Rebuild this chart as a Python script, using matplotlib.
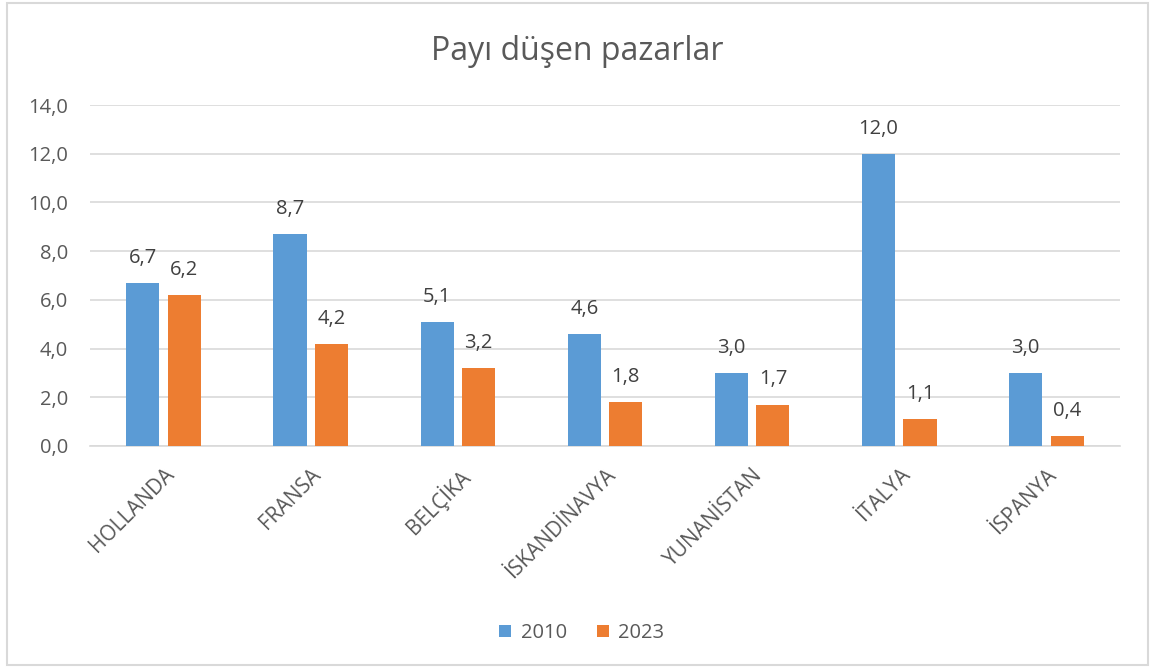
import numpy as np
import matplotlib.pyplot as plt
from matplotlib.patches import Rectangle

plt.rcParams["font.family"] = ["Open Sans", "DejaVu Sans"]

# veriler
ulkeler = ["HOLLANDA", "FRANSA", "BELÇİKA", "İSKANDİNAVYA", "YUNANİSTAN", "İTALYA", "İSPANYA"]
pay_2010 = [6.7, 8.7, 5.1, 4.6, 3.0, 12.0, 3.0]
pay_2023 = [6.2, 4.2, 3.2, 1.8, 1.7, 1.1, 0.4]

blue = "#5b9bd5"
orange = "#ed7d31"
text_color = "#595959"
grid_color = "#d9d9d9"
fs = 14.5

fig = plt.figure(figsize=(11.52, 6.68), dpi=100)
ax = fig.add_axes([90/1152, 1-446/668, 1030/1152, 341/668])

x = np.arange(len(ulkeler))
w = 0.225
off = 0.141

b1 = ax.bar(x-off, pay_2010, w, color=blue, label="2010", zorder=3)
b2 = ax.bar(x+off, pay_2023, w, color=orange, label="2023", zorder=3)

for bars in (b1, b2):
    for b in bars:
        v = b.get_height()
        ax.text(b.get_x()+b.get_width()/2, v+0.62, f"{v:.1f}".replace(".", ","),
                ha="center", va="bottom", fontsize=fs, color="#404040")

ax.set_xlim(-0.5, len(ulkeler)-0.5)
ax.set_ylim(0, 14)
ax.set_yticks(np.arange(0, 15, 2))
ax.set_yticklabels([f"{t:.1f}".replace(".", ",") for t in np.arange(0, 15, 2)])
ax.yaxis.grid(True, color=grid_color, linewidth=1.2, zorder=0)
ax.set_axisbelow(True)
for s in ["top", "right", "left"]:
    ax.spines[s].set_visible(False)
ax.spines["bottom"].set_color(grid_color)
ax.spines["bottom"].set_linewidth(1.2)
ax.tick_params(axis="both", length=0, labelsize=fs, colors=text_color)
ax.tick_params(axis="y", pad=16)
ax.set_xticks(x)
ax.set_xticklabels(ulkeler, rotation=45, ha="right", rotation_mode="anchor", fontsize=15)
ax.tick_params(axis="x", pad=13)

fig.text(0.501, 1-51/668, "Payı düşen pazarlar", ha="center", va="center",
         fontsize=23, color=text_color)

fig.legend(handles=[b1, b2], loc="center", bbox_to_anchor=(0.505, 1-633/668),
           ncol=2, frameon=False, fontsize=fs, handlelength=0.6, handleheight=0.6,
           handletextpad=0.45, columnspacing=1.5, labelcolor=text_color)

fig.patches.append(Rectangle((7/1152, 3/668), 1141/1152, 662/668, transform=fig.transFigure,
                             fill=False, edgecolor="#d9d9d9", linewidth=1.5))

fig.savefig("out.png", dpi=100)
